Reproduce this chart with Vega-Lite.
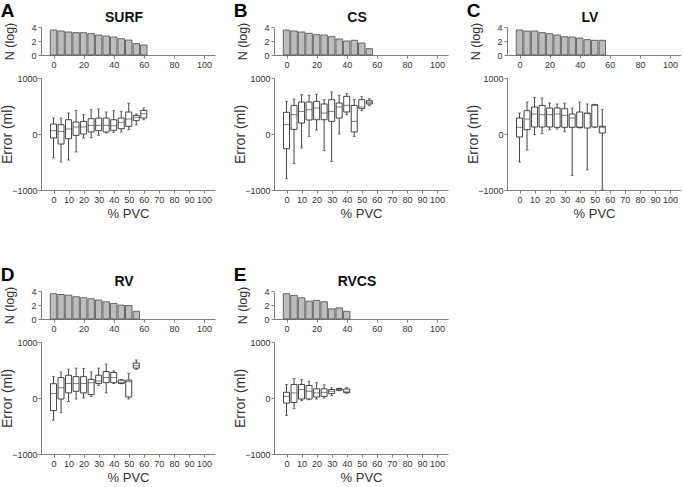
{
  "$schema": "https://vega.github.io/schema/vega-lite/v6.json",
  "background": "white",
  "padding": {"left": 0, "top": 2, "right": 0, "bottom": 0},
  "config": {
    "font": "Liberation Sans",
    "view": {"stroke": null},
    "axis": {"grid": false, "domainColor": "#7f7f7f", "tickColor": "#7f7f7f", "labelColor": "#333333", "titleColor": "#333333", "labelFontSize": 9, "titleFontWeight": "normal", "tickSize": 3, "labelPadding": 2},
    "concat": {"spacing": 18}
  },
  "datasets": {
    "bars": [
      {"panel": "SURF", "pvc": 0, "n": 3.57}, {"panel": "SURF", "pvc": 5, "n": 3.43}, {"panel": "SURF", "pvc": 10, "n": 3.29}, {"panel": "SURF", "pvc": 15, "n": 3.19}, {"panel": "SURF", "pvc": 20, "n": 3.19}, {"panel": "SURF", "pvc": 25, "n": 3.05}, {"panel": "SURF", "pvc": 30, "n": 2.86}, {"panel": "SURF", "pvc": 35, "n": 2.71}, {"panel": "SURF", "pvc": 40, "n": 2.57}, {"panel": "SURF", "pvc": 45, "n": 2.33}, {"panel": "SURF", "pvc": 50, "n": 2.14}, {"panel": "SURF", "pvc": 55, "n": 1.62}, {"panel": "SURF", "pvc": 60, "n": 1.43},
      {"panel": "CS", "pvc": 0, "n": 3.57}, {"panel": "CS", "pvc": 5, "n": 3.43}, {"panel": "CS", "pvc": 10, "n": 3.29}, {"panel": "CS", "pvc": 15, "n": 3.1}, {"panel": "CS", "pvc": 20, "n": 2.9}, {"panel": "CS", "pvc": 25, "n": 2.86}, {"panel": "CS", "pvc": 30, "n": 2.62}, {"panel": "CS", "pvc": 35, "n": 2.29}, {"panel": "CS", "pvc": 40, "n": 2.0}, {"panel": "CS", "pvc": 45, "n": 2.1}, {"panel": "CS", "pvc": 50, "n": 1.71}, {"panel": "CS", "pvc": 55, "n": 0.9},
      {"panel": "LV", "pvc": 0, "n": 3.57}, {"panel": "LV", "pvc": 5, "n": 3.43}, {"panel": "LV", "pvc": 10, "n": 3.43}, {"panel": "LV", "pvc": 15, "n": 3.19}, {"panel": "LV", "pvc": 20, "n": 3.05}, {"panel": "LV", "pvc": 25, "n": 2.86}, {"panel": "LV", "pvc": 30, "n": 2.62}, {"panel": "LV", "pvc": 35, "n": 2.57}, {"panel": "LV", "pvc": 40, "n": 2.43}, {"panel": "LV", "pvc": 45, "n": 2.19}, {"panel": "LV", "pvc": 50, "n": 2.1}, {"panel": "LV", "pvc": 55, "n": 2.1},
      {"panel": "RV", "pvc": 0, "n": 3.61}, {"panel": "RV", "pvc": 5, "n": 3.5}, {"panel": "RV", "pvc": 10, "n": 3.4}, {"panel": "RV", "pvc": 15, "n": 3.18}, {"panel": "RV", "pvc": 20, "n": 3.04}, {"panel": "RV", "pvc": 25, "n": 2.89}, {"panel": "RV", "pvc": 30, "n": 2.7}, {"panel": "RV", "pvc": 35, "n": 2.46}, {"panel": "RV", "pvc": 40, "n": 2.22}, {"panel": "RV", "pvc": 45, "n": 1.98}, {"panel": "RV", "pvc": 50, "n": 1.93}, {"panel": "RV", "pvc": 55, "n": 1.1},
      {"panel": "RVCS", "pvc": 0, "n": 3.61}, {"panel": "RVCS", "pvc": 5, "n": 3.37}, {"panel": "RVCS", "pvc": 10, "n": 3.04}, {"panel": "RVCS", "pvc": 15, "n": 2.55}, {"panel": "RVCS", "pvc": 20, "n": 2.65}, {"panel": "RVCS", "pvc": 25, "n": 2.46}, {"panel": "RVCS", "pvc": 30, "n": 1.45}, {"panel": "RVCS", "pvc": 35, "n": 1.59}, {"panel": "RVCS", "pvc": 40, "n": 1.1}
    ],
    "boxes": [
      {"panel": "SURF", "pvc": 0, "lo": -425, "q1": -71, "med": 59, "q3": 178, "hi": 285},
      {"panel": "SURF", "pvc": 5, "lo": -500, "q1": -179, "med": 46, "q3": 166, "hi": 285},
      {"panel": "SURF", "pvc": 10, "lo": -465, "q1": -84, "med": 89, "q3": 255, "hi": 375},
      {"panel": "SURF", "pvc": 15, "lo": -321, "q1": -25, "med": 125, "q3": 214, "hi": 422},
      {"panel": "SURF", "pvc": 20, "lo": -71, "q1": 0, "med": 125, "q3": 226, "hi": 345},
      {"panel": "SURF", "pvc": 25, "lo": -65, "q1": 36, "med": 154, "q3": 273, "hi": 434},
      {"panel": "SURF", "pvc": 30, "lo": -25, "q1": 59, "med": 154, "q3": 285, "hi": 446},
      {"panel": "SURF", "pvc": 35, "lo": 18, "q1": 36, "med": 154, "q3": 285, "hi": 393},
      {"panel": "SURF", "pvc": 40, "lo": 30, "q1": 65, "med": 148, "q3": 255, "hi": 416},
      {"panel": "SURF", "pvc": 45, "lo": 36, "q1": 95, "med": 208, "q3": 285, "hi": 405},
      {"panel": "SURF", "pvc": 50, "lo": 77, "q1": 137, "med": 268, "q3": 393, "hi": 550},
      {"panel": "SURF", "pvc": 55, "lo": 166, "q1": 238, "med": 298, "q3": 333, "hi": 357},
      {"panel": "SURF", "pvc": 60, "lo": 255, "q1": 285, "med": 363, "q3": 422, "hi": 464},
      {"panel": "CS", "pvc": 0, "lo": -798, "q1": -262, "med": 166, "q3": 387, "hi": 583},
      {"panel": "CS", "pvc": 5, "lo": -530, "q1": 83, "med": 345, "q3": 511, "hi": 625},
      {"panel": "CS", "pvc": 10, "lo": -250, "q1": 196, "med": 404, "q3": 571, "hi": 702},
      {"panel": "CS", "pvc": 15, "lo": -43, "q1": 250, "med": 434, "q3": 571, "hi": 690},
      {"panel": "CS", "pvc": 20, "lo": 71, "q1": 255, "med": 464, "q3": 583, "hi": 710},
      {"panel": "CS", "pvc": 25, "lo": -298, "q1": 255, "med": 375, "q3": 536, "hi": 613},
      {"panel": "CS", "pvc": 30, "lo": -488, "q1": 226, "med": 404, "q3": 613, "hi": 750},
      {"panel": "CS", "pvc": 35, "lo": 0, "q1": 285, "med": 482, "q3": 553, "hi": 690},
      {"panel": "CS", "pvc": 40, "lo": 345, "q1": 393, "med": 511, "q3": 672, "hi": 720},
      {"panel": "CS", "pvc": 45, "lo": -43, "q1": 36, "med": 226, "q3": 511, "hi": 619},
      {"panel": "CS", "pvc": 50, "lo": 416, "q1": 452, "med": 482, "q3": 613, "hi": 666},
      {"panel": "CS", "pvc": 55, "lo": 506, "q1": 536, "med": 565, "q3": 595, "hi": 630},
      {"panel": "LV", "pvc": 0, "lo": -500, "q1": -54, "med": 119, "q3": 285, "hi": 375},
      {"panel": "LV", "pvc": 5, "lo": -286, "q1": 77, "med": 268, "q3": 416, "hi": 571},
      {"panel": "LV", "pvc": 10, "lo": -12, "q1": 125, "med": 357, "q3": 482, "hi": 654},
      {"panel": "LV", "pvc": 15, "lo": 6, "q1": 125, "med": 345, "q3": 511, "hi": 643},
      {"panel": "LV", "pvc": 20, "lo": 77, "q1": 125, "med": 345, "q3": 464, "hi": 553},
      {"panel": "LV", "pvc": 25, "lo": 89, "q1": 119, "med": 357, "q3": 464, "hi": 536},
      {"panel": "LV", "pvc": 30, "lo": 41, "q1": 119, "med": 333, "q3": 452, "hi": 553},
      {"panel": "LV", "pvc": 35, "lo": -739, "q1": 119, "med": 285, "q3": 357, "hi": 464},
      {"panel": "LV", "pvc": 40, "lo": 107, "q1": 115, "med": 125, "q3": 393, "hi": 571},
      {"panel": "LV", "pvc": 45, "lo": -640, "q1": 107, "med": 363, "q3": 375, "hi": 536},
      {"panel": "LV", "pvc": 50, "lo": 115, "q1": 125, "med": 511, "q3": 523, "hi": 530},
      {"panel": "LV", "pvc": 55, "lo": -1000, "q1": 18, "med": 119, "q3": 137, "hi": 434},
      {"panel": "RV", "pvc": 0, "lo": -395, "q1": -225, "med": 78, "q3": 255, "hi": 382},
      {"panel": "RV", "pvc": 5, "lo": -262, "q1": -18, "med": 182, "q3": 364, "hi": 466},
      {"panel": "RV", "pvc": 10, "lo": -62, "q1": 91, "med": 260, "q3": 406, "hi": 515},
      {"panel": "RV", "pvc": 15, "lo": -18, "q1": 120, "med": 260, "q3": 382, "hi": 533},
      {"panel": "RV", "pvc": 20, "lo": 0, "q1": 91, "med": 260, "q3": 382, "hi": 528},
      {"panel": "RV", "pvc": 25, "lo": 29, "q1": 60, "med": 273, "q3": 333, "hi": 466},
      {"panel": "RV", "pvc": 30, "lo": 224, "q1": 260, "med": 302, "q3": 406, "hi": 533},
      {"panel": "RV", "pvc": 35, "lo": 91, "q1": 273, "med": 364, "q3": 473, "hi": 606},
      {"panel": "RV", "pvc": 40, "lo": 260, "q1": 273, "med": 364, "q3": 455, "hi": 484},
      {"panel": "RV", "pvc": 45, "lo": 255, "q1": 260, "med": 280, "q3": 320, "hi": 330},
      {"panel": "RV", "pvc": 50, "lo": -18, "q1": 18, "med": 291, "q3": 320, "hi": 442},
      {"panel": "RV", "pvc": 55, "lo": 510, "q1": 533, "med": 575, "q3": 624, "hi": 679},
      {"panel": "RVCS", "pvc": 0, "lo": -311, "q1": -91, "med": 29, "q3": 102, "hi": 240},
      {"panel": "RVCS", "pvc": 5, "lo": -190, "q1": -80, "med": 91, "q3": 242, "hi": 347},
      {"panel": "RVCS", "pvc": 10, "lo": -48, "q1": -18, "med": 151, "q3": 242, "hi": 329},
      {"panel": "RVCS", "pvc": 15, "lo": -30, "q1": -18, "med": 120, "q3": 224, "hi": 300},
      {"panel": "RVCS", "pvc": 20, "lo": -18, "q1": 18, "med": 91, "q3": 164, "hi": 273},
      {"panel": "RVCS", "pvc": 25, "lo": 0, "q1": 29, "med": 102, "q3": 164, "hi": 235},
      {"panel": "RVCS", "pvc": 30, "lo": 42, "q1": 78, "med": 120, "q3": 151, "hi": 182},
      {"panel": "RVCS", "pvc": 35, "lo": 130, "q1": 138, "med": 150, "q3": 169, "hi": 175},
      {"panel": "RVCS", "pvc": 40, "lo": 85, "q1": 95, "med": 110, "q3": 160, "hi": 185}
    ]
  },
  "spacing": 46,
  "vconcat": [
    {"hconcat": [
      {"title": {"text": "A", "anchor": "start", "frame": "bounds", "fontSize": 19, "fontWeight": "bold", "color": "#000", "offset": -10},
       "spacing": 5,
       "vconcat": [
        {"data": {"name": "bars"}, "transform": [{"filter": "datum.panel === 'SURF'"}], "width": 174, "height": 28,
         "title": {"text": "SURF", "fontSize": 14, "fontWeight": "bold", "color": "#111", "offset": -3, "dx": -4},
         "mark": {"type": "bar", "size": 6.5, "fill": "#bdbdbd", "stroke": "#4a4a4a", "strokeWidth": 0.8},
         "encoding": {
          "x": {"field": "pvc", "type": "quantitative", "scale": {"domain": [-5, 104], "nice": false}, "axis": {"values": [0, 20, 40, 60, 80, 100], "title": null}},
          "y": {"field": "n", "type": "quantitative", "scale": {"domain": [0, 4], "nice": false}, "axis": {"values": [0, 2, 4], "title": "N (log)", "titleFontSize": 12.5, "titlePadding": 14}}
         }},
        {"data": {"name": "boxes"}, "transform": [{"filter": "datum.panel === 'SURF'"}], "width": 174, "height": 112,
         "encoding": {"x": {"field": "pvc", "type": "quantitative", "scale": {"domain": [-5, 104], "nice": false}, "axis": {"values": [0, 10, 20, 30, 40, 50, 60, 70, 80, 90, 100], "title": "% PVC", "titleFontSize": 13, "titlePadding": 3}}},
         "layer": [
          {"mark": {"type": "rule", "color": "#444", "strokeWidth": 1}, "encoding": {"y": {"field": "lo", "type": "quantitative", "title": "Error (ml)", "scale": {"domain": [-1000, 1000], "nice": false}, "axis": {"values": [-1000, -500, 0, 500, 1000], "format": "d", "labelPadding": 1, "titleFontSize": 14, "titlePadding": -3}}, "y2": {"field": "hi"}}},
          {"mark": {"type": "tick", "orient": "horizontal", "size": 3, "thickness": 1, "color": "#444"}, "encoding": {"y": {"field": "lo", "type": "quantitative", "title": "Error (ml)"}}},
          {"mark": {"type": "tick", "orient": "horizontal", "size": 3, "thickness": 1, "color": "#444"}, "encoding": {"y": {"field": "hi", "type": "quantitative", "title": "Error (ml)"}}},
          {"mark": {"type": "bar", "size": 6, "fill": "white", "stroke": "#444", "strokeWidth": 1}, "encoding": {"y": {"field": "q1", "type": "quantitative", "title": "Error (ml)"}, "y2": {"field": "q3"}}},
          {"mark": {"type": "tick", "orient": "horizontal", "size": 6, "thickness": 1, "color": "#444"}, "encoding": {"y": {"field": "med", "type": "quantitative", "title": "Error (ml)"}}}
         ]}
       ]},
      {"title": {"text": "B", "anchor": "start", "frame": "bounds", "fontSize": 19, "fontWeight": "bold", "color": "#000", "offset": -10},
       "spacing": 5,
       "vconcat": [
        {"data": {"name": "bars"}, "transform": [{"filter": "datum.panel === 'CS'"}], "width": 174, "height": 28,
         "title": {"text": "CS", "fontSize": 14, "fontWeight": "bold", "color": "#111", "offset": -3, "dx": -4},
         "mark": {"type": "bar", "size": 6.5, "fill": "#bdbdbd", "stroke": "#4a4a4a", "strokeWidth": 0.8},
         "encoding": {
          "x": {"field": "pvc", "type": "quantitative", "scale": {"domain": [-5, 104], "nice": false}, "axis": {"values": [0, 20, 40, 60, 80, 100], "title": null}},
          "y": {"field": "n", "type": "quantitative", "scale": {"domain": [0, 4], "nice": false}, "axis": {"values": [0, 2, 4], "title": "N (log)", "titleFontSize": 12.5, "titlePadding": 14}}
         }},
        {"data": {"name": "boxes"}, "transform": [{"filter": "datum.panel === 'CS'"}], "width": 174, "height": 112,
         "encoding": {"x": {"field": "pvc", "type": "quantitative", "scale": {"domain": [-5, 104], "nice": false}, "axis": {"values": [0, 10, 20, 30, 40, 50, 60, 70, 80, 90, 100], "title": "% PVC", "titleFontSize": 13, "titlePadding": 3}}},
         "layer": [
          {"mark": {"type": "rule", "color": "#444", "strokeWidth": 1}, "encoding": {"y": {"field": "lo", "type": "quantitative", "title": "Error (ml)", "scale": {"domain": [-1000, 1000], "nice": false}, "axis": {"values": [-1000, -500, 0, 500, 1000], "format": "d", "labelPadding": 1, "titleFontSize": 14, "titlePadding": -3}}, "y2": {"field": "hi"}}},
          {"mark": {"type": "tick", "orient": "horizontal", "size": 3, "thickness": 1, "color": "#444"}, "encoding": {"y": {"field": "lo", "type": "quantitative", "title": "Error (ml)"}}},
          {"mark": {"type": "tick", "orient": "horizontal", "size": 3, "thickness": 1, "color": "#444"}, "encoding": {"y": {"field": "hi", "type": "quantitative", "title": "Error (ml)"}}},
          {"mark": {"type": "bar", "size": 6, "fill": "white", "stroke": "#444", "strokeWidth": 1}, "encoding": {"y": {"field": "q1", "type": "quantitative", "title": "Error (ml)"}, "y2": {"field": "q3"}}},
          {"mark": {"type": "tick", "orient": "horizontal", "size": 6, "thickness": 1, "color": "#444"}, "encoding": {"y": {"field": "med", "type": "quantitative", "title": "Error (ml)"}}}
         ]}
       ]},
      {"title": {"text": "C", "anchor": "start", "frame": "bounds", "fontSize": 19, "fontWeight": "bold", "color": "#000", "offset": -10},
       "spacing": 5,
       "vconcat": [
        {"data": {"name": "bars"}, "transform": [{"filter": "datum.panel === 'LV'"}], "width": 174, "height": 28,
         "title": {"text": "LV", "fontSize": 14, "fontWeight": "bold", "color": "#111", "offset": -3, "dx": -4},
         "mark": {"type": "bar", "size": 6.5, "fill": "#bdbdbd", "stroke": "#4a4a4a", "strokeWidth": 0.8},
         "encoding": {
          "x": {"field": "pvc", "type": "quantitative", "scale": {"domain": [-5, 104], "nice": false}, "axis": {"values": [0, 20, 40, 60, 80, 100], "title": null}},
          "y": {"field": "n", "type": "quantitative", "scale": {"domain": [0, 4], "nice": false}, "axis": {"values": [0, 2, 4], "title": "N (log)", "titleFontSize": 12.5, "titlePadding": 14}}
         }},
        {"data": {"name": "boxes"}, "transform": [{"filter": "datum.panel === 'LV'"}], "width": 174, "height": 112,
         "encoding": {"x": {"field": "pvc", "type": "quantitative", "scale": {"domain": [-5, 104], "nice": false}, "axis": {"values": [0, 10, 20, 30, 40, 50, 60, 70, 80, 90, 100], "title": "% PVC", "titleFontSize": 13, "titlePadding": 3}}},
         "layer": [
          {"mark": {"type": "rule", "color": "#444", "strokeWidth": 1}, "encoding": {"y": {"field": "lo", "type": "quantitative", "title": "Error (ml)", "scale": {"domain": [-1000, 1000], "nice": false}, "axis": {"values": [-1000, -500, 0, 500, 1000], "format": "d", "labelPadding": 1, "titleFontSize": 14, "titlePadding": -3}}, "y2": {"field": "hi"}}},
          {"mark": {"type": "tick", "orient": "horizontal", "size": 3, "thickness": 1, "color": "#444"}, "encoding": {"y": {"field": "lo", "type": "quantitative", "title": "Error (ml)"}}},
          {"mark": {"type": "tick", "orient": "horizontal", "size": 3, "thickness": 1, "color": "#444"}, "encoding": {"y": {"field": "hi", "type": "quantitative", "title": "Error (ml)"}}},
          {"mark": {"type": "bar", "size": 6, "fill": "white", "stroke": "#444", "strokeWidth": 1}, "encoding": {"y": {"field": "q1", "type": "quantitative", "title": "Error (ml)"}, "y2": {"field": "q3"}}},
          {"mark": {"type": "tick", "orient": "horizontal", "size": 6, "thickness": 1, "color": "#444"}, "encoding": {"y": {"field": "med", "type": "quantitative", "title": "Error (ml)"}}}
         ]}
       ]}
    ]},
    {"hconcat": [
      {"title": {"text": "D", "anchor": "start", "frame": "bounds", "fontSize": 19, "fontWeight": "bold", "color": "#000", "offset": -10},
       "spacing": 5,
       "vconcat": [
        {"data": {"name": "bars"}, "transform": [{"filter": "datum.panel === 'RV'"}], "width": 174, "height": 28,
         "title": {"text": "RV", "fontSize": 14, "fontWeight": "bold", "color": "#111", "offset": -3, "dx": -4},
         "mark": {"type": "bar", "size": 6.5, "fill": "#bdbdbd", "stroke": "#4a4a4a", "strokeWidth": 0.8},
         "encoding": {
          "x": {"field": "pvc", "type": "quantitative", "scale": {"domain": [-5, 104], "nice": false}, "axis": {"values": [0, 20, 40, 60, 80, 100], "title": null}},
          "y": {"field": "n", "type": "quantitative", "scale": {"domain": [0, 4], "nice": false}, "axis": {"values": [0, 2, 4], "title": "N (log)", "titleFontSize": 12.5, "titlePadding": 14}}
         }},
        {"data": {"name": "boxes"}, "transform": [{"filter": "datum.panel === 'RV'"}], "width": 174, "height": 112,
         "encoding": {"x": {"field": "pvc", "type": "quantitative", "scale": {"domain": [-5, 104], "nice": false}, "axis": {"values": [0, 10, 20, 30, 40, 50, 60, 70, 80, 90, 100], "title": "% PVC", "titleFontSize": 13, "titlePadding": 3}}},
         "layer": [
          {"mark": {"type": "rule", "color": "#444", "strokeWidth": 1}, "encoding": {"y": {"field": "lo", "type": "quantitative", "title": "Error (ml)", "scale": {"domain": [-1000, 1000], "nice": false}, "axis": {"values": [-1000, -500, 0, 500, 1000], "format": "d", "labelPadding": 1, "titleFontSize": 14, "titlePadding": -3}}, "y2": {"field": "hi"}}},
          {"mark": {"type": "tick", "orient": "horizontal", "size": 3, "thickness": 1, "color": "#444"}, "encoding": {"y": {"field": "lo", "type": "quantitative", "title": "Error (ml)"}}},
          {"mark": {"type": "tick", "orient": "horizontal", "size": 3, "thickness": 1, "color": "#444"}, "encoding": {"y": {"field": "hi", "type": "quantitative", "title": "Error (ml)"}}},
          {"mark": {"type": "bar", "size": 6, "fill": "white", "stroke": "#444", "strokeWidth": 1}, "encoding": {"y": {"field": "q1", "type": "quantitative", "title": "Error (ml)"}, "y2": {"field": "q3"}}},
          {"mark": {"type": "tick", "orient": "horizontal", "size": 6, "thickness": 1, "color": "#444"}, "encoding": {"y": {"field": "med", "type": "quantitative", "title": "Error (ml)"}}}
         ]}
       ]},
      {"title": {"text": "E", "anchor": "start", "frame": "bounds", "fontSize": 19, "fontWeight": "bold", "color": "#000", "offset": -10},
       "spacing": 5,
       "vconcat": [
        {"data": {"name": "bars"}, "transform": [{"filter": "datum.panel === 'RVCS'"}], "width": 174, "height": 28,
         "title": {"text": "RVCS", "fontSize": 14, "fontWeight": "bold", "color": "#111", "offset": -3, "dx": -4},
         "mark": {"type": "bar", "size": 6.5, "fill": "#bdbdbd", "stroke": "#4a4a4a", "strokeWidth": 0.8},
         "encoding": {
          "x": {"field": "pvc", "type": "quantitative", "scale": {"domain": [-5, 104], "nice": false}, "axis": {"values": [0, 20, 40, 60, 80, 100], "title": null}},
          "y": {"field": "n", "type": "quantitative", "scale": {"domain": [0, 4], "nice": false}, "axis": {"values": [0, 2, 4], "title": "N (log)", "titleFontSize": 12.5, "titlePadding": 14}}
         }},
        {"data": {"name": "boxes"}, "transform": [{"filter": "datum.panel === 'RVCS'"}], "width": 174, "height": 112,
         "encoding": {"x": {"field": "pvc", "type": "quantitative", "scale": {"domain": [-5, 104], "nice": false}, "axis": {"values": [0, 10, 20, 30, 40, 50, 60, 70, 80, 90, 100], "title": "% PVC", "titleFontSize": 13, "titlePadding": 3}}},
         "layer": [
          {"mark": {"type": "rule", "color": "#444", "strokeWidth": 1}, "encoding": {"y": {"field": "lo", "type": "quantitative", "title": "Error (ml)", "scale": {"domain": [-1000, 1000], "nice": false}, "axis": {"values": [-1000, -500, 0, 500, 1000], "format": "d", "labelPadding": 1, "titleFontSize": 14, "titlePadding": -3}}, "y2": {"field": "hi"}}},
          {"mark": {"type": "tick", "orient": "horizontal", "size": 3, "thickness": 1, "color": "#444"}, "encoding": {"y": {"field": "lo", "type": "quantitative", "title": "Error (ml)"}}},
          {"mark": {"type": "tick", "orient": "horizontal", "size": 3, "thickness": 1, "color": "#444"}, "encoding": {"y": {"field": "hi", "type": "quantitative", "title": "Error (ml)"}}},
          {"mark": {"type": "bar", "size": 6, "fill": "white", "stroke": "#444", "strokeWidth": 1}, "encoding": {"y": {"field": "q1", "type": "quantitative", "title": "Error (ml)"}, "y2": {"field": "q3"}}},
          {"mark": {"type": "tick", "orient": "horizontal", "size": 6, "thickness": 1, "color": "#444"}, "encoding": {"y": {"field": "med", "type": "quantitative", "title": "Error (ml)"}}}
         ]}
       ]}
    ]}
  ]
}
